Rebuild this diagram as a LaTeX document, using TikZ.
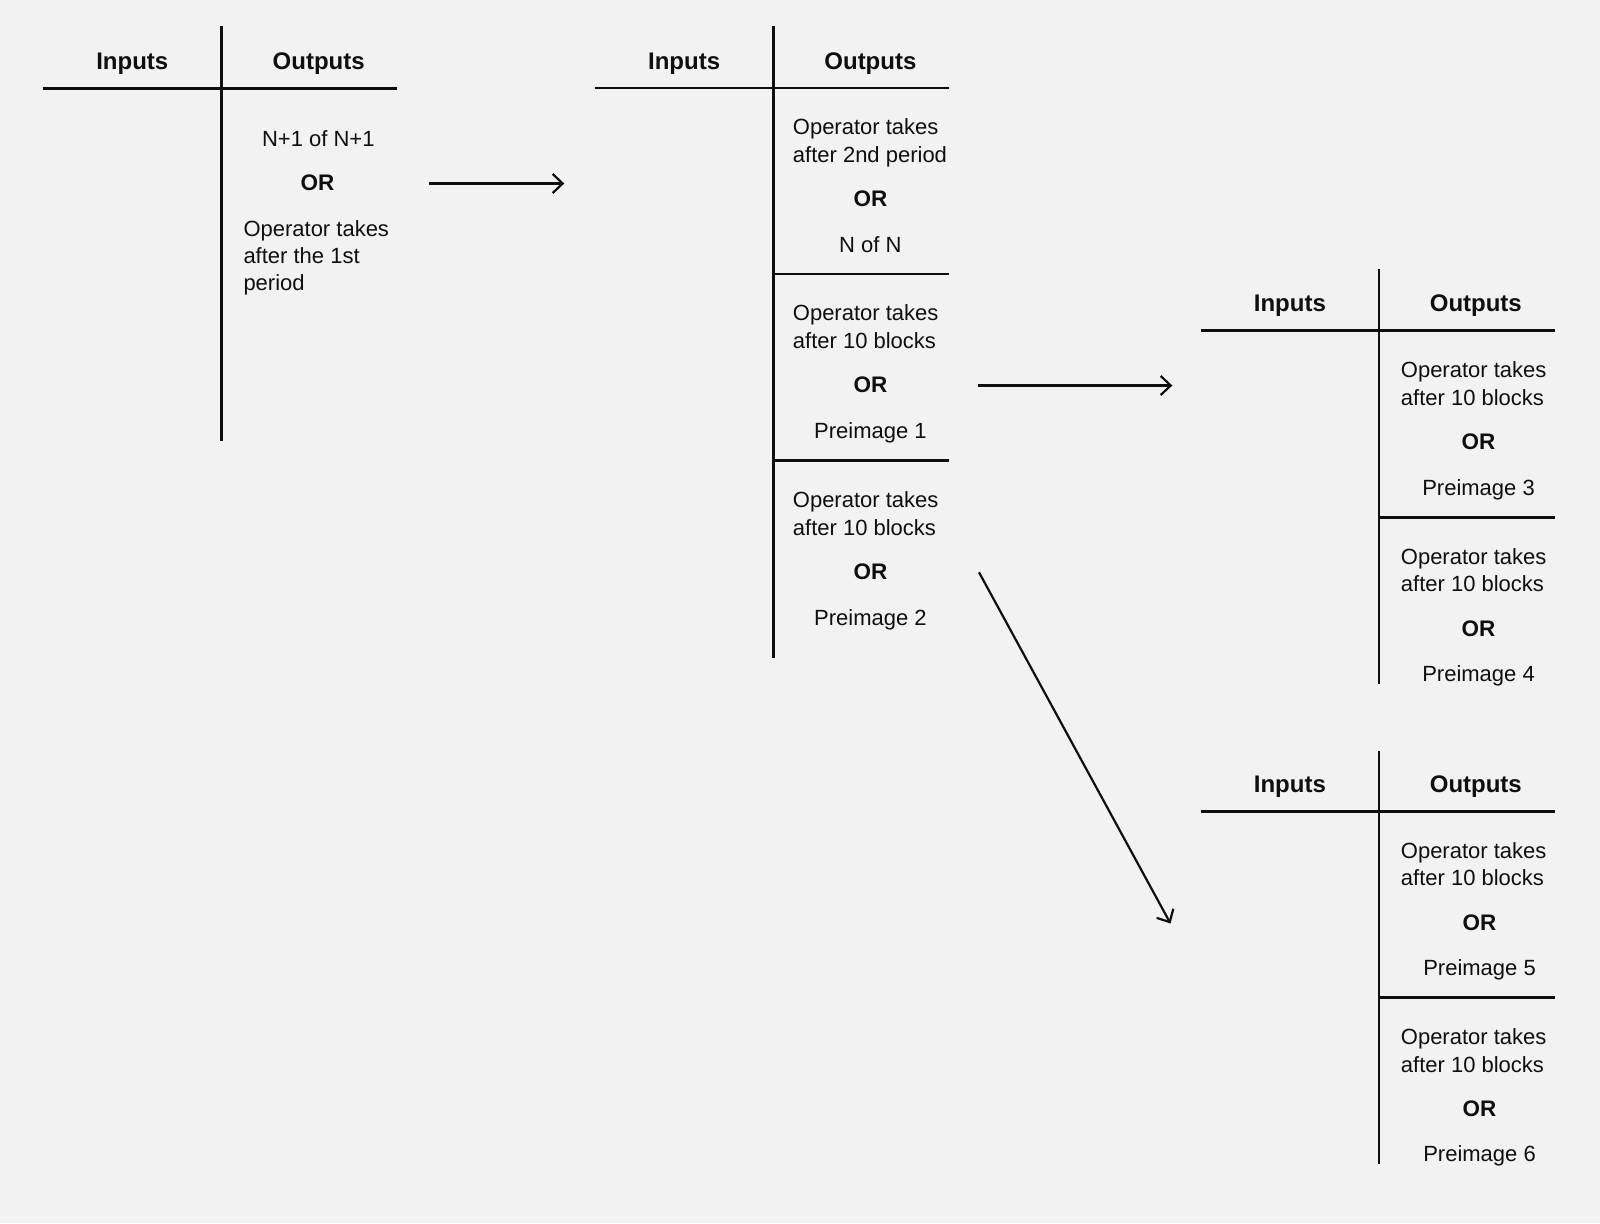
\documentclass[tikz,border=0pt]{standalone}
\usepackage{fontspec}
\setmainfont{Liberation Sans}
\usetikzlibrary{arrows.meta}
\definecolor{bg}{HTML}{F2F2F2}
\definecolor{ink}{HTML}{0F0F0F}
\tikzset{
  rule/.style={draw=ink, line width=2.6pt},
  head/.style={inner sep=0pt, anchor=base, text=ink, font=\fontsize{24}{28}\selectfont\bfseries},
  body/.style={inner sep=0pt, anchor=base west, text=ink, font=\fontsize{22}{27}\selectfont},
  bodyc/.style={inner sep=0pt, anchor=base, text=ink, font=\fontsize{22}{27}\selectfont},
  orlbl/.style={inner sep=0pt, anchor=base, text=ink, font=\fontsize{22.5}{27}\selectfont\bfseries},
  flow/.style={draw=ink, line width=2.2pt, -{Straight Barb[length=10pt,width=19pt]}},
}
% #1 name, #2 xL, #3 xV, #4 xR, #5 yH, #6 top, #7 bottom, #8 outputs centre x
\newcommand\IOTable[8]{%
  \draw[rule] (#2,#5) -- (#4,#5);
  \draw[rule] (#3,#6) -- (#3,#7);
  \node[head] (#1in) at ({(#2+#3)/2},{#5-18.8}) {Inputs};
  \node[head] (#1out) at (#8,{#5-18.8}) {Outputs};
}
% #1 name, #2 left x, #3 centre x, #4 yS, #5 line1, #6 line2, #7 last
\newcommand\OutSec[7]{%
  \node[body] (#1a) at (#2,{#4+46.8}) {#5};
  \node[body] (#1b) at (#2,{#4+74.4}) {#6};
  \node[orlbl] (#1or) at (#3,{#4+118.9}) {OR};
  \node[bodyc] (#1c) at (#3,{#4+164.3}) {#7};
}
\begin{document}
\begin{tikzpicture}[x=1pt,y=-1pt]
  \useasboundingbox (0,0) rectangle (1600,1223);
  \fill[bg] (0,0) rectangle (1600,1223);

  % Table 1
  \IOTable{ta}{42.9}{221.7}{396.7}{88.3}{26.5}{440.8}{318.7}
  \node[bodyc] (taN) at (318.3,146) {N+1 of N+1};
  \node[orlbl] (taor) at (317.5,190.7) {OR};
  \node[body] (taa) at (243.3,236.7) {Operator takes};
  \node[body] (tab) at (243.3,263.6) {after the 1st};
  \node[body] (tac) at (243.3,290.7) {period};

  % Table 2
  \IOTable{tb}{594.9}{773.3}{949.3}{88}{26.5}{658}{870.4}
  \draw[rule] (773.3,274) -- (949.3,274);
  \draw[rule] (773.3,460.7) -- (949.3,460.7);
  \OutSec{tbs}{792.7}{870.4}{88}{Operator takes}{after 2nd period}{N of N}
  \OutSec{tbt}{792.7}{870.4}{274}{Operator takes}{after 10 blocks}{Preimage 1}
  \OutSec{tbu}{792.7}{870.4}{460.7}{Operator takes}{after 10 blocks}{Preimage 2}

  % Table 3
  \IOTable{tc}{1200.7}{1379}{1555}{330.7}{269.3}{683.7}{1475.8}
  \draw[rule] (1379,517.3) -- (1555,517.3);
  \OutSec{tcs}{1400.7}{1478.5}{330.7}{Operator takes}{after 10 blocks}{Preimage 3}
  \OutSec{tct}{1400.7}{1478.5}{517.3}{Operator takes}{after 10 blocks}{Preimage 4}

  % Table 4
  \IOTable{td}{1200.7}{1379}{1555}{811.3}{751}{1163.5}{1475.8}
  \draw[rule] (1379,997.6) -- (1555,997.6);
  \OutSec{tds}{1400.7}{1479.5}{811.3}{Operator takes}{after 10 blocks}{Preimage 5}
  \OutSec{tdt}{1400.7}{1479.5}{997.6}{Operator takes}{after 10 blocks}{Preimage 6}

  % Arrows
  \coordinate (a1s) at (428.5,183.5);
  \coordinate (a1e) at (564.3,183.5);
  \coordinate (a2s) at (978.4,385.5);
  \coordinate (a2e) at (1172.3,385.5);
  \coordinate (a3s) at (979,572.3);
  \coordinate (a3e) at (1170.5,923.5);
  \draw[flow] (a1s) -- (a1e);
  \draw[flow] (a2s) -- (a2e);
  \draw[flow] (a3s) -- (a3e);
\end{tikzpicture}
\end{document}
